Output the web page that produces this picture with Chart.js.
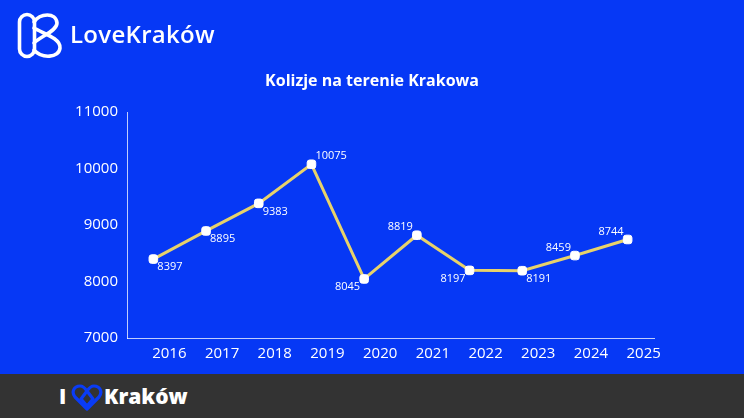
<!DOCTYPE html>
<html>
<head>
<meta charset="utf-8">
<script src="https://cdn.jsdelivr.net/npm/chart.js@4.4.1/dist/chart.umd.min.js"></script>
<style>
  html, body { margin: 0; padding: 0; }
  body { width: 744px; height: 418px; background: #0638f5; position: relative; overflow: hidden; font-family: "Open Sans", sans-serif; }
  #wrap { position: absolute; left: 0; top: 0; width: 744px; height: 374px; }
  #title { position: absolute; left: 0; top: 69px; width: 744px; text-align: center; color: #fff; font-size: 16px; font-weight: 700; }
  #logo { position: absolute; left: 0; top: 0; width: 240px; height: 70px; }
  #logoText { position: absolute; left: 70px; top: 17px; color: #fff; font-size: 24px; font-weight: 600; letter-spacing: 0.3px; }
  #footer { position: absolute; left: 0; top: 374px; width: 744px; height: 44px; background: #333333; }
  #footer .i { position: absolute; left: 59px; top: 8px; color: #fff; font-size: 21px; font-weight: 800; }
  #footer .k { position: absolute; left: 104px; top: 8px; color: #fff; font-size: 21px; font-weight: 800; }
  #footer svg { position: absolute; left: 71px; top: 10px; }
</style>
</head>
<body>
<div id="wrap"><canvas id="chart"></canvas></div>
<div id="title">Kolizje na terenie Krakowa</div>

<svg id="logo" width="240" height="70" viewBox="0 0 240 70">
  <g fill="none" stroke="#fff" stroke-width="3.6" stroke-linecap="round" stroke-linejoin="round">
    <rect x="19.5" y="14.5" width="15" height="42" rx="7.5"/>
    <path d="M34 22 C 40 13, 56 12, 57 23 C 57 31, 41 36, 34 43"/>
    <path d="M34 28 C 42 33, 61 38, 60 48 C 59 58, 42 59, 34 50"/>
  </g>
</svg>
<div id="logoText">LoveKraków</div>

<div id="footer">
  <span class="i">I</span>
  <svg width="32" height="28" viewBox="0 0 32 28">
    <g fill="none" stroke="#0a3cf5" stroke-width="3.2" stroke-linejoin="round">
      <path d="M16 25 L4 13 C 0 8, 3 2, 9 2 C 12 2, 14 4, 16 7 C 18 4, 20 2, 23 2 C 29 2, 32 8, 28 13 Z"/>
      <path d="M16 7 L10 15 L16 22 L22 15 Z"/>
    </g>
  </svg>
  <span class="k">Kraków</span>
</div>

<script>
const years = ['2016', '2017', '2018', '2019', '2020', '2021', '2022', '2023', '2024', '2025'];
const collisions = [8397, 8895, 9383, 10075, 8045, 8819, 8197, 8191, 8459, 8744];
const yTicks = [7000, 8000, 9000, 10000, 11000];
// where each value label sits around its point: t/b = above/below, l/r = left/right
const labelSide = ['br', 'br', 'br', 'tr', 'bl', 'tl', 'bl', 'br', 'tl', 'tl'];

const FONT = '"Open Sans", sans-serif';

// draws the numbers next to each point
const valueLabels = {
    id: 'valueLabels',
    afterDatasetsDraw(chart) {
        const ctx = chart.ctx;
        const meta = chart.getDatasetMeta(0);
        ctx.save();
        ctx.fillStyle = '#ffffff';
        ctx.font = '500 11px ' + FONT;
        ctx.textBaseline = 'middle';
        meta.data.forEach((pt, i) => {
            const side = labelSide[i];
            const dy = side[0] === 't' ? -8 : 8;
            if (side[1] === 'r') {
                ctx.textAlign = 'left';
                ctx.fillText(collisions[i], pt.x + 4, pt.y + dy);
            } else {
                ctx.textAlign = 'right';
                ctx.fillText(collisions[i], pt.x - 4, pt.y + dy);
            }
        });
        ctx.restore();
    }
};

new Chart(document.getElementById('chart').getContext('2d'), {
    type: 'line',
    data: {
        labels: years,
        datasets: [{
            data: collisions,
            borderColor: '#e8d26a',
            borderWidth: 3,
            tension: 0,
            pointStyle: 'rectRounded',
            pointRadius: 5,
            pointBackgroundColor: '#ffffff',
            pointBorderColor: '#ffffff',
            pointBorderWidth: 1
        }]
    },
    options: {
        responsive: true,
        maintainAspectRatio: false,
        animation: false,
        layout: { padding: { left: 0, right: 90, top: 112, bottom: 0 } },
        plugins: {
            legend: { display: false },
            tooltip: { enabled: false },
            title: { display: false }
        },
        scales: {
            x: {
                offset: true,
                grid: { display: false, drawTicks: false },
                border: { display: true, color: 'rgba(255,255,255,0.75)', width: 1 },
                ticks: {
                    color: '#ffffff',
                    font: { family: FONT, size: 15, weight: '500' },
                    padding: 7,
                    labelOffset: 16,
                    maxRotation: 0
                },
                afterFit(scale) { scale.height = 36; }
            },
            y: {
                min: 7000,
                max: 11000,
                afterBuildTicks(scale) { scale.ticks = yTicks.map(v => ({ value: v })); },
                grid: { display: false, drawTicks: false },
                border: { display: true, color: 'rgba(255,255,255,0.75)', width: 1 },
                ticks: {
                    color: '#ffffff',
                    font: { family: FONT, size: 15, weight: '500' },
                    padding: 9,
                    callback: v => String(v)
                },
                afterFit(scale) { scale.width = 127; }
            }
        }
    },
    plugins: [valueLabels]
});
</script>
</body>
</html>
